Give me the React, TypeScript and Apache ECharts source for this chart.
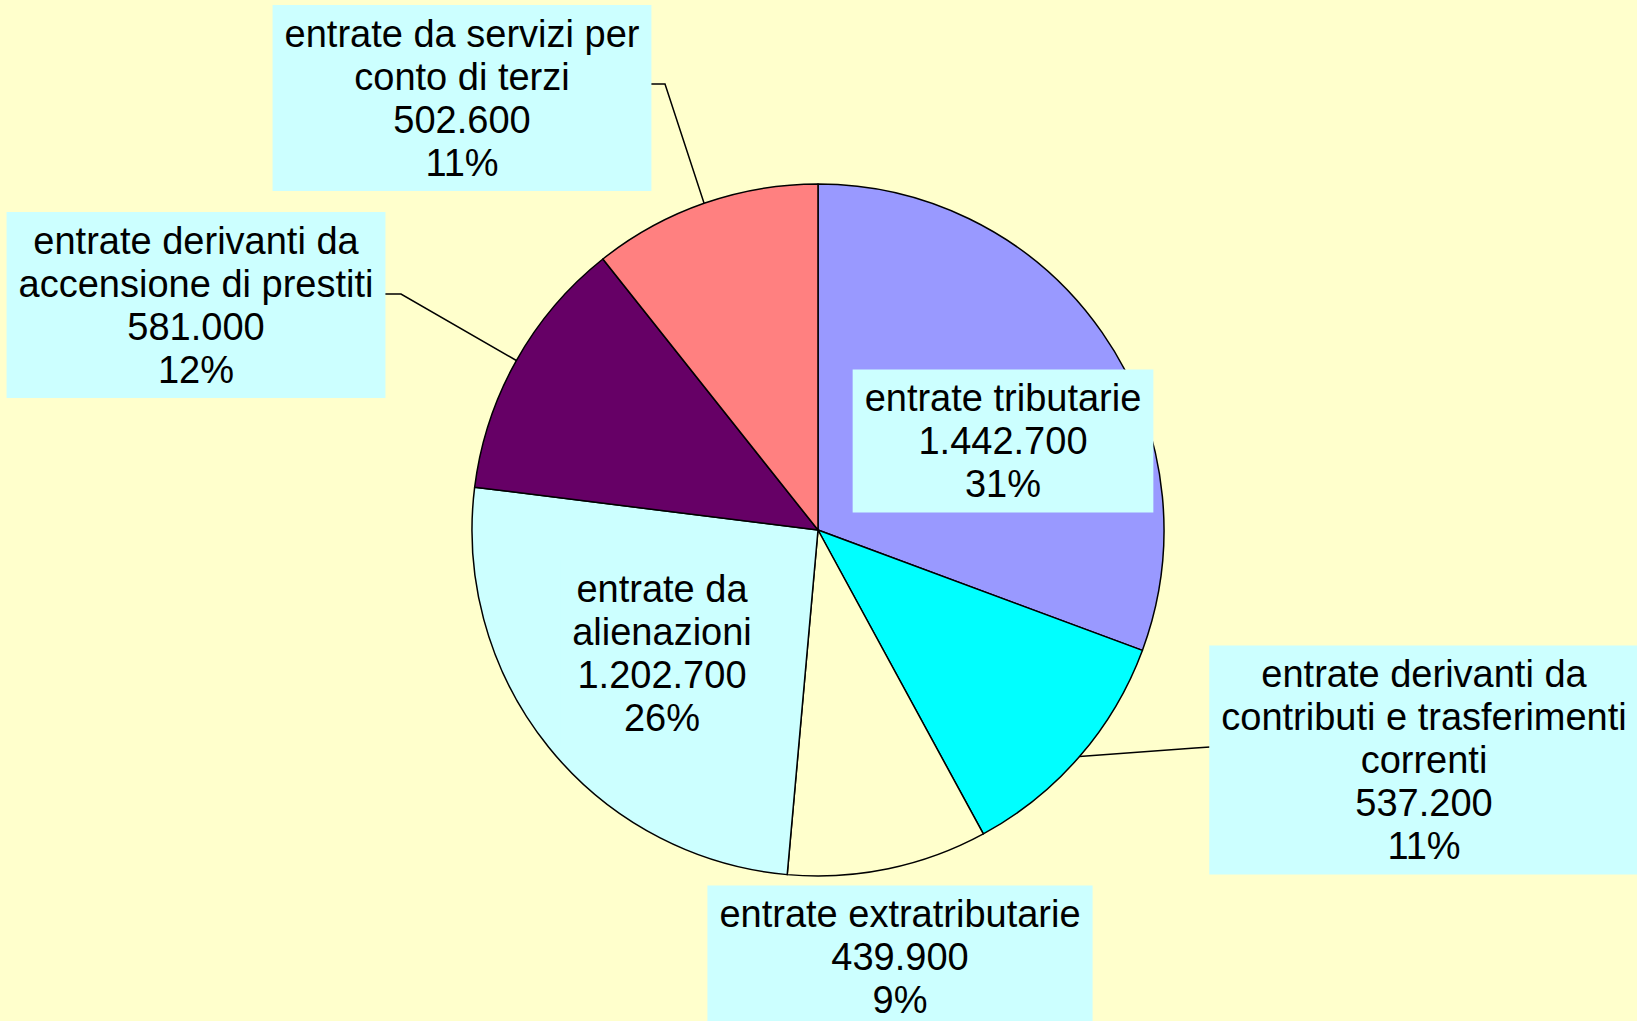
import React, { useEffect, useRef } from "react";
import * as echarts from "echarts";

// ---- data ----
const categories: string[] = [
  "entrate tributarie",
  "entrate derivanti da\ncontributi e trasferimenti\ncorrenti",
  "entrate extratributarie",
  "entrate da\nalienazioni",
  "entrate derivanti da\naccensione di prestiti",
  "entrate da servizi per\nconto di terzi",
];
const values: number[] = [1442700, 537200, 439900, 1202700, 581000, 502600];

// ---- styles / layout (not data) ----
const sliceColors = ["#9999FF", "#00FFFF", "#FFFFCC", "#CCFFFF", "#660066", "#FF8080"];
const labelPos: { x: number; y: number; line?: number[][] }[] = [
  { x: 1003, y: 441 },
  { x: 1424, y: 760, line: [[1195, 748], [1210, 747]] },
  { x: 900, y: 957 },
  { x: 662, y: 653 },
  { x: 196, y: 305, line: [[401, 294], [384, 294]] },
  { x: 462, y: 98, line: [[665, 84], [650, 84]] },
];

const fmtNum = (v: number) => String(v).replace(/\B(?=(\d{3})+(?!\d))/g, ".");

export default function App() {
  const ref = useRef<HTMLDivElement>(null);
  useEffect(() => {
    document.body.style.margin = "0";
    const chart = echarts.init(ref.current!, undefined, { renderer: "svg" });
    const data = categories.map((name, i) => ({
      name,
      value: values[i],
      itemStyle: { color: sliceColors[i] },
      labelLine: { show: !!labelPos[i].line },
    }));
    chart.setOption({
      animation: false,
      backgroundColor: "#FFFFCC",
      series: [
        {
          type: "pie",
          center: [818, 530],
          radius: 346,
          startAngle: 90,
          clockwise: true,
          avoidLabelOverlap: false,
          silent: true,
          data,
          itemStyle: { borderColor: "#000000", borderWidth: 1.5 },
          label: {
            show: true,
            position: "outside",
            formatter: (p: any) =>
              `${p.name}\n${fmtNum(p.value)}\n${Math.round(p.percent)}%`,
            fontFamily: "'Liberation Sans', Arial, sans-serif",
            fontSize: 38,
            lineHeight: 43,
            color: "#000000",
            backgroundColor: "#CCFFFF",
            padding: [7, 12],
            align: "center",
            overflow: "none",
          },
          labelLine: {
            length: 20,
            length2: 15,
            lineStyle: { color: "#000000", width: 1.5 },
          },
          labelLayout: (p: any) => {
            const L = labelPos[p.dataIndex];
            const res: any = {
              x: L.x,
              y: L.y,
              align: "center",
              verticalAlign: "middle",
            };
            if (L.line && p.labelLinePoints && p.labelLinePoints.length) {
              res.labelLinePoints = [p.labelLinePoints[0], L.line[0], L.line[1]];
            }
            return res;
          },
        },
      ],
    });
    return () => chart.dispose();
  }, []);
  return <div ref={ref} style={{ width: 1637, height: 1021 }} />;
}
